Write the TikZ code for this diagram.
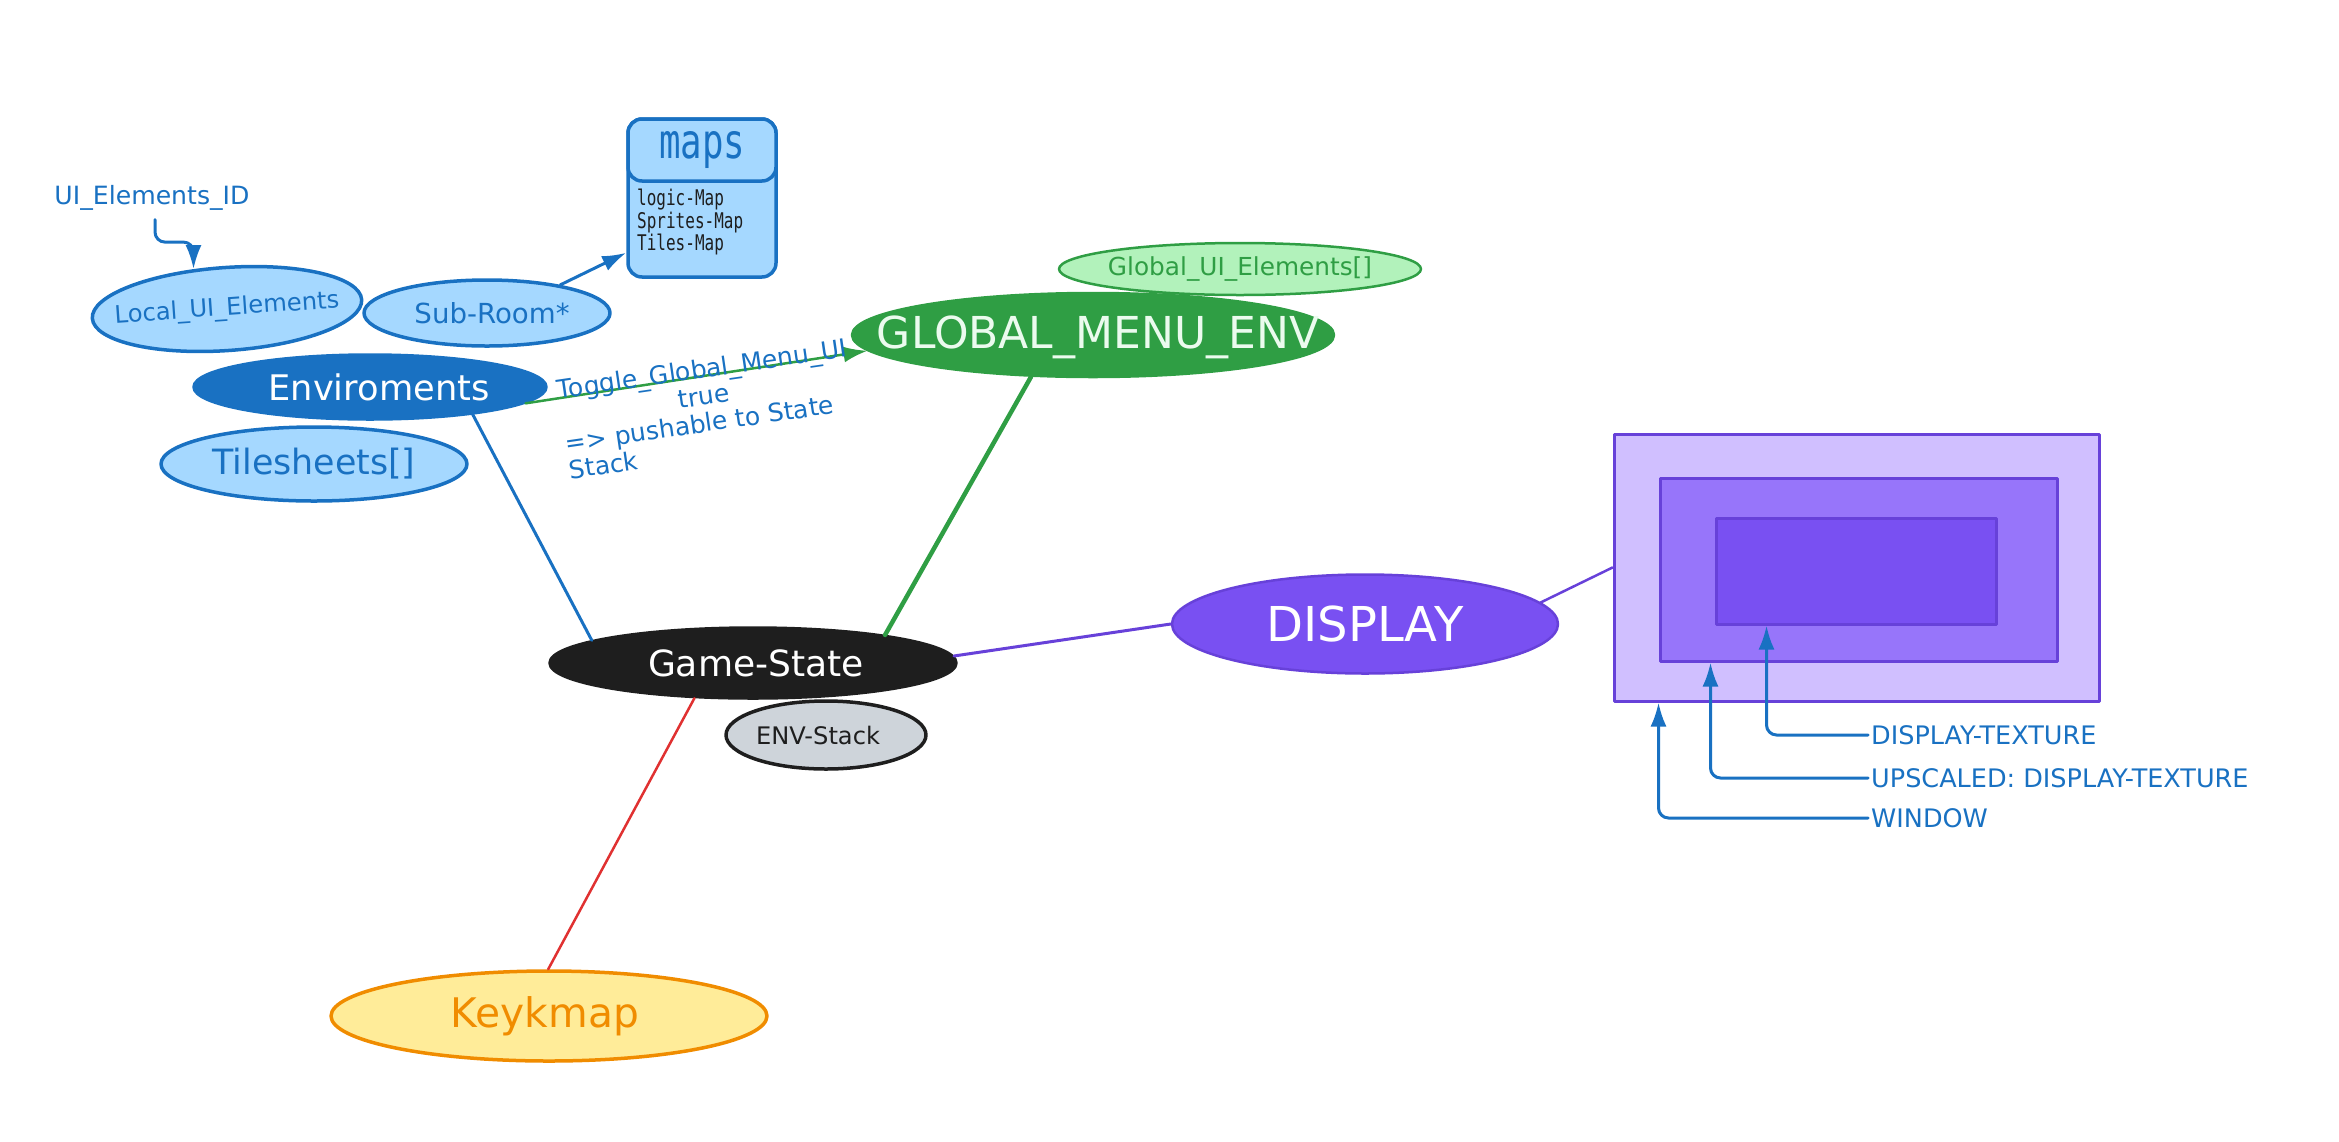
\documentclass[tikz,border=0pt]{standalone}
\usepackage{fontspec}
\usepackage{graphicx}
\setmainfont{DejaVu Sans}
\newfontfamily\monofont{DejaVu Sans Mono}
\usetikzlibrary{arrows.meta,shapes.geometric}

\definecolor{eblue}{HTML}{1971C2}
\definecolor{lblue}{HTML}{A5D8FF}
\definecolor{egreen}{HTML}{2F9E44}
\definecolor{lgreen}{HTML}{B2F2BB}
\definecolor{pale}{HTML}{EBFBEE}
\definecolor{ink}{HTML}{1E1E1E}
\definecolor{greyfill}{HTML}{CED4DA}
\definecolor{yel}{HTML}{FFEC99}
\definecolor{orng}{HTML}{F08C00}
\definecolor{viol}{HTML}{7950F2}
\definecolor{violdk}{HTML}{6741D9}
\definecolor{viollt}{HTML}{D0BFFF}
\definecolor{violmd}{HTML}{9775FA}
\definecolor{redline}{HTML}{E03131}

% scale a piece of text to a given width (in pt)
\newcommand{\fitw}[2]{\resizebox{#1pt}{!}{#2}}
% tall, narrow monospace look
\newcommand{\tallmono}[1]{\scalebox{1}[1.35]{#1}}

\begin{document}
\begin{tikzpicture}[x=1pt,y=-1pt,line join=round,line cap=round,
  oval/.style={ellipse,inner sep=0pt,line width=3.5pt},
  lbl/.style={inner sep=0pt},
  conn/.style={line width=3pt},
  arr/.style={line width=3pt,-{Latex[length=24pt,width=16pt]}},
  box/.style={inner sep=0pt,line width=3.5pt},
  side/.style={lbl,anchor=west,text=eblue,font=\fontsize{25.5}{30}\selectfont},
]
\useasboundingbox (0,0) rectangle (2339,1141);

% ---------- environment cluster ----------
\node[oval,draw=eblue,fill=lblue,minimum width=270pt,minimum height=83pt,rotate=4] (local) at (227,309) {};
\node[lbl,text=eblue,rotate=4] (local-t) at (local.center) {\fitw{225}{Local\_UI\_Elements}};

\node[oval,draw=eblue,fill=lblue,minimum width=246pt,minimum height=66pt] (subroom) at (487,313) {};
\node[lbl,text=eblue] (subroom-t) at ([xshift=5pt]subroom.center) {\fitw{155}{Sub-Room*}};

\node[oval,draw=eblue,fill=eblue,minimum width=352pt,minimum height=64pt] (env) at (370,387) {};
\node[lbl,text=white] (env-t) at ([xshift=9pt]env.center) {\fitw{221}{Enviroments}};

\node[oval,draw=eblue,fill=lblue,minimum width=306pt,minimum height=74pt] (tiles) at (314,464) {};
\node[lbl,text=eblue] (tiles-t) at (tiles.center) {\fitw{203}{Tilesheets[]}};

\node[lbl,text=eblue] (uiid) at (152,198) {\fitw{195}{UI\_Elements\_ID}};
\draw[arr,eblue,rounded corners=10pt] ([xshift=3pt,yshift=-9pt]uiid.south) |- ([yshift=27pt]local.126) -- (local.126);

% maps table
\node[box,draw=eblue,fill=lblue,rounded corners=14pt,minimum width=148pt,minimum height=158pt] (maps) at (702,198) {};
\node[box,draw=eblue,fill=lblue,rounded corners=14pt,minimum width=148pt,minimum height=62pt,anchor=north,text=eblue] (maps-h) at (maps.north) {\tallmono{\fitw{86}{\monofont maps}}};
\node[lbl,anchor=north west,align=left,text=ink,font=\monofont\fontsize{16}{22.5}\selectfont] (maps-b) at (637,189)
  {\tallmono{logic-Map}\\\tallmono{Sprites-Map}\\\tallmono{Tiles-Map}};
\draw[arr,eblue] (subroom.21) -- ([yshift=26pt]maps.south west);

% ---------- global menu ----------
\node[oval,draw=egreen,fill=lgreen,line width=2.5pt,minimum width=362pt,minimum height=52pt] (globalui) at (1240,269) {};
\node[lbl,text=egreen] (globalui-t) at (globalui.center) {\fitw{264}{Global\_UI\_Elements[]}};

\node[oval,draw=egreen,fill=egreen,minimum width=481pt,minimum height=83pt] (global) at (1093,335) {};
\node[lbl,text=pale] (global-t) at ([xshift=5pt,yshift=-2pt]global.center) {\fitw{442}{GLOBAL\_MENU\_ENV}};

\draw[arr,egreen,line width=2.5pt] (env.-6) -- (global.184);
\node[lbl,anchor=north west,rotate=8.3,align=left,text=eblue,font=\fontsize{25}{27}\selectfont] (toggle) at (556,380)
  {Toggle\_Global\_Menu\_UI\\\hspace*{118pt}true\\=> pushable to State\\Stack};

% ---------- game state ----------
\node[oval,draw=ink,fill=ink,minimum width=406pt,minimum height=70pt] (game) at (753,663) {};
\node[lbl,text=white] (game-t) at ([xshift=3pt]game.center) {\fitw{216}{Game-State}};

\node[oval,draw=ink,fill=greyfill,minimum width=200pt,minimum height=68pt] (envstack) at (826,735) {};
\node[lbl,text=ink] (envstack-t) at ([xshift=-8pt]envstack.center) {\fitw{124}{ENV-Stack}};

\node[oval,draw=orng,fill=yel,minimum width=436pt,minimum height=90pt] (keymap) at (549,1016) {};
\node[lbl,text=orng] (keymap-t) at ([xshift=-4pt]keymap.center) {\fitw{188}{Keykmap}};

\node[oval,draw=violdk,fill=viol,line width=2.5pt,minimum width=386pt,minimum height=99pt] (display) at (1365,624) {};
\node[lbl,text=white] (display-t) at (display.center) {\fitw{197}{DISPLAY}};

% ---------- window / texture frames ----------
\node[box,draw=violdk,fill=viollt,line width=3pt,minimum width=485pt,minimum height=267pt] (outer) at (1856.5,567.5) {};
\node[box,draw=violdk,fill=violmd,line width=3pt,minimum width=397pt,minimum height=183pt] (middle) at (1858.5,569.5) {};
\node[box,draw=violdk,fill=viol,line width=3pt,minimum width=280pt,minimum height=106pt] (inner) at (1856,571) {};

\node[side] (dtex) at (1871,735) {DISPLAY-TEXTURE};
\node[side] (upsc) at (1871,778) {UPSCALED: DISPLAY-TEXTURE};
\node[side] (win) at (1871,818) {WINDOW};

\draw[arr,eblue,rounded corners=10pt] ([xshift=-3pt]dtex.west) -| ([xshift=52pt]inner.south west);
\draw[arr,eblue,rounded corners=10pt] ([xshift=-3pt]upsc.west) -| ([xshift=52pt]middle.south west);
\draw[arr,eblue,rounded corners=10pt] ([xshift=-3pt]win.west) -| ([xshift=46pt]outer.south west);

% ---------- connectors ----------
\draw[conn,eblue] (env.-15) -- (game.172);
\draw[conn,egreen,line width=4.5pt] (global.214) -- (game.12);
\draw[conn,redline,line width=2.5pt] (game.211) -- (keymap.91);
\draw[conn,violdk] (game.2) -- (display.west);
\draw[conn,violdk,line width=2.5pt] (display.7) -- (outer.west);
\end{tikzpicture}
\end{document}
